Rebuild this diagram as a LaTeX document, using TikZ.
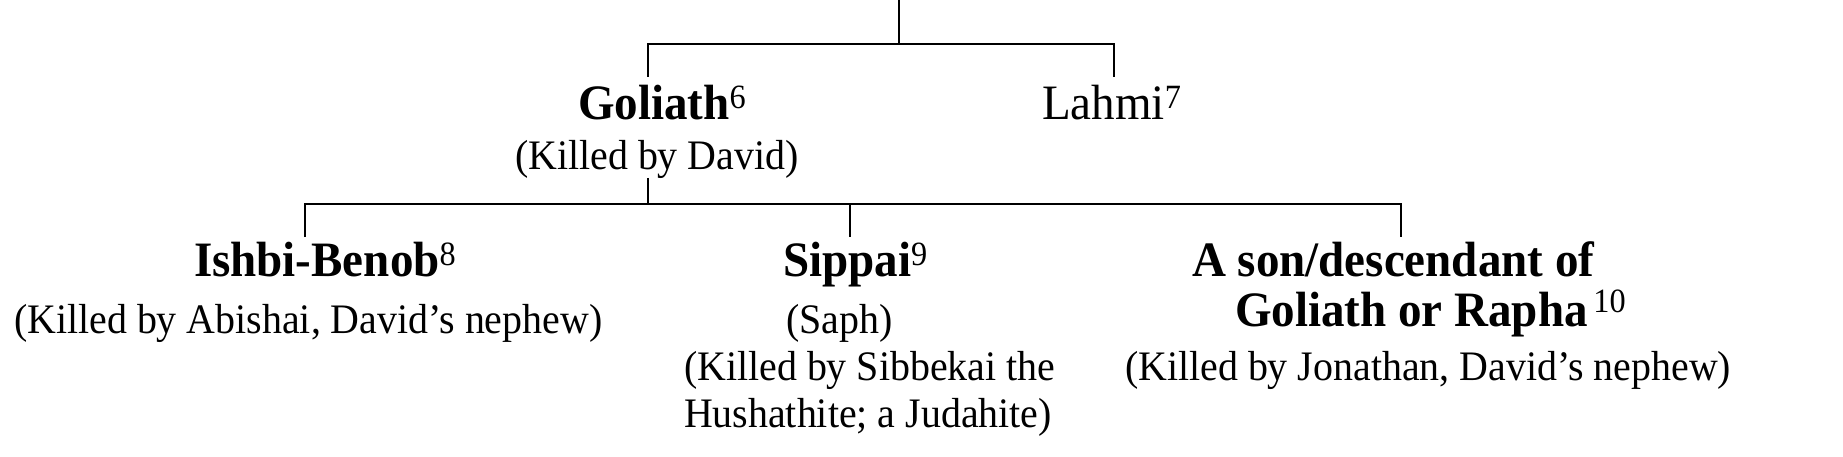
\documentclass[tikz,border=0pt]{standalone}
\usepackage{fontspec}
\setmainfont{Liberation Serif}[FakeStretch=0.95]
\newcommand\nmfont{\fontsize{49.5}{54}\selectfont\bfseries}
\newcommand\rgfont{\fontsize{42}{47}\selectfont}
\newcommand\bgfont{\fontsize{49.5}{54}\selectfont}
\newcommand\sups[2][11pt]{\raisebox{#1}{\fontsize{34}{36}\selectfont\mdseries #2}}
\begin{document}
\begin{tikzpicture}[x=1pt,y=-1pt,
  txt/.style={inner sep=0pt,outer sep=0pt,anchor=base west},
  namebox/.style={txt,font=\nmfont},
  plainbig/.style={txt,font=\bgfont},
  notebox/.style={txt,font=\rgfont},
  link/.style={line width=2pt,line cap=butt,line join=miter}]
\useasboundingbox (0,0) rectangle (1843,457);
% text nodes
\node[namebox]  (gol)   at (578,119.5) {Goliath\sups{6}};
\node[notebox]  (golk)  at (515,170)   {(Killed by David)};
\node[plainbig] (lah)   at (1042,119.5) {Lahmi\sups{7}};
\node[namebox]  (ish)   at (194,276)   {Ishbi-Benob\sups{8}};
\node[notebox]  (ishk)  at (14,333)    {(Killed by Abishai, David’s nephew)};
\node[namebox]  (sip)   at (783,276)   {Sippai\sups{9}};
\node[notebox]  (saph)  at (786,333)   {(Saph)};
\node[notebox]  (sipk1) at (684,380)   {(Killed by Sibbekai the};
\node[notebox]  (sipk2) at (684,427)   {Hushathite; a Judahite)};
\node[namebox]  (son1)  at (1192,276)  {A son/descendant of};
\node[namebox]  (son2)  at (1235,326)  {Goliath or Rapha\sups[14pt]{\,10}};
\node[notebox]  (sonk)  at (1125,380)  {(Killed by Jonathan, David’s nephew)};
% connector points
\coordinate (root)   at (899,0);
\coordinate (rootB)  at (899,44);
\coordinate (barL)   at (647.5,44);
\coordinate (barR)   at (1114,44);
\coordinate (golTop) at (647.5,77);
\coordinate (lahTop) at (1114,77);
\coordinate (golBot) at (648,178);
\coordinate (golB)   at (648,204);
\coordinate (bar2L)  at (305,204);
\coordinate (bar2R)  at (1401,204);
\coordinate (sipB)   at (850,204);
\coordinate (ishTop) at (305,237);
\coordinate (sipTop) at (850,237);
\coordinate (sonTop) at (1401,237);
% connectors
\draw[link] (root) -- (rootB);
\draw[link] (golTop) -- (barL) -- (barR) -- (lahTop);
\draw[link] (golBot) -- (golB);
\draw[link] (ishTop) -- (bar2L) -- (bar2R) -- (sonTop);
\draw[link] (sipB) -- (sipTop);
\end{tikzpicture}
\end{document}
